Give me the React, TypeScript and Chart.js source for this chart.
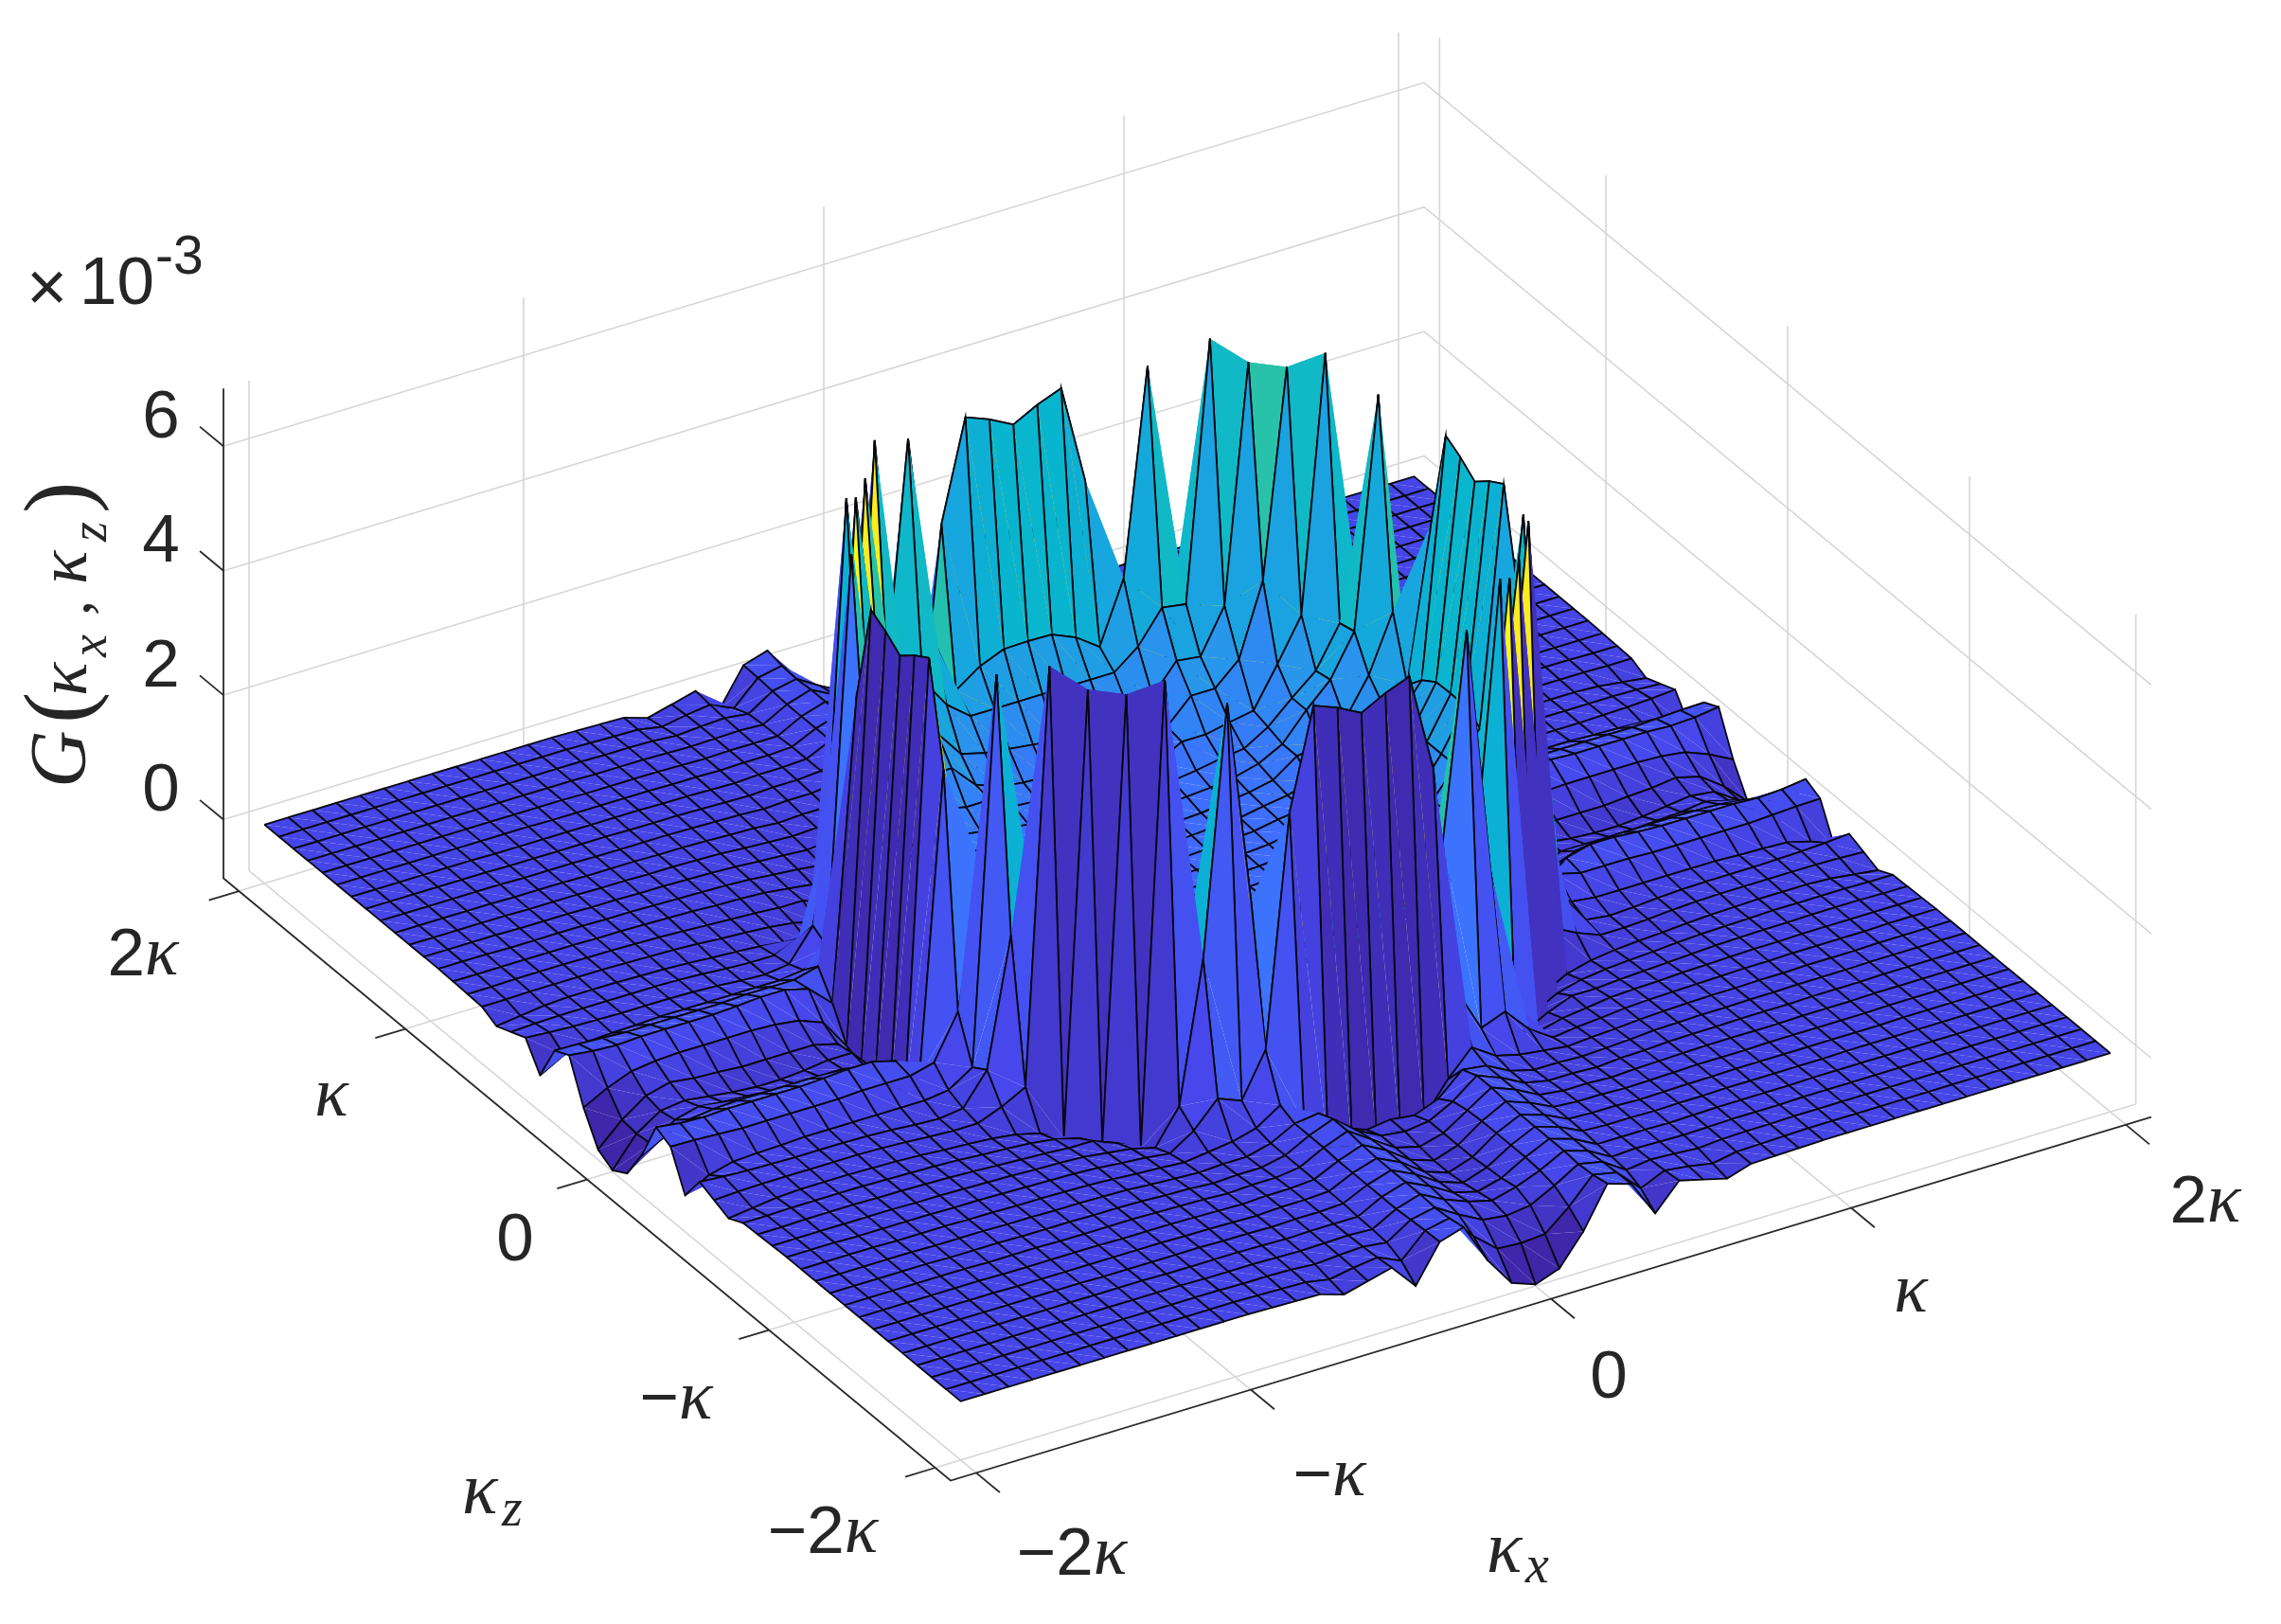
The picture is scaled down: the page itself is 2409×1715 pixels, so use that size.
import React, { useEffect, useRef } from "react";
import { Chart, registerables } from "chart.js";
Chart.register(...registerables);

// G(kx,kz) x 1e3. Row a holds the grid points (a, b) for b = a..24,
// where a = min(|i|,|j|) and b = max(|i|,|j|): the surface has the symmetry of the square.
const octantRows: number[][] = [
  [.8,.8,.8,.82,.85,.9,.95,1.05,1.15,1.45,2.0,2.66,5.95,-.6,-.2,-.2,-.25,-.28,-.28,-.25,-.2,-.15,-.2,-.45,-.92],
  [.8,.8,.83,.86,.92,.98,1.08,1.18,1.5,2.0,2.65,6.15,-.7,-.25,-.15,-.15,-.15,-.15,-.12,-.1,-.05,-.15,-.42,-.78],
  [.82,.85,.88,.95,1.0,1.1,1.2,1.55,2.0,2.49,6.3,-.6,-.1,.05,.1,.12,.12,.12,.12,.1,.05,-.1,-.3],
  [.88,.9,.97,1.03,1.13,1.25,1.6,2.0,2.22,4.7,-.1,.25,.35,.35,.32,.3,.3,.3,.3,.28,.3,.35],
  [.95,1.0,1.08,1.35,1.4,1.7,2.3,3.2,1.0,.3,.2,.2,.2,.18,.18,.18,.18,.18,.2,.22,.23],
  [1.05,1.15,1.35,1.78,2.15,2.81,6.5,.3,.05,0,0,0,0,0,0,-.02,-.03,-.05,-.15,-.36],
  [1.2,1.43,1.78,2.1,2.75,2.5,.45,-.05,-.1,-.08,-.05,-.03,-.02,-.02,-.02,-.01,0,.02,.05],
  [1.5,2.13,2.8,6.9,.25,.05,-.1,-.1,-.08,-.05,-.03,-.02,-.02,-.02,-.02,-.02,-.03,-.05],
  [3.28,6.6,-.5,-.3,-.2,-.15,-.12,-.1,-.07,-.05,-.04,-.03,-.03,-.03,-.05,-.1,-.15],
  [-.5,-.3,-.2,-.15,-.12,-.1,-.07,-.05,-.04,-.03,-.02,-.02,-.02,-.02,-.03,-.03],
  [-.15,-.15,-.12,-.1,-.08,-.06,-.04,-.03,-.02,-.02,-.01,-.01,-.01,-.02,-.02],
  [-.1,-.08,-.07,-.05,-.04,-.03,-.02,-.02,-.01,-.01,-.01,-.01,-.01,-.01],
  [-.06,-.05,-.04,-.03,-.02,-.02,-.01,-.01,-.01,-.01,0,0,0],
  [-.04,-.03,-.03,-.02,-.02,-.01,-.01,-.01,0,0,0,0],
  [-.03,-.02,-.02,-.01,-.01,-.01,0,0,0,0,0],
  [-.02,-.02,-.01,-.01,-.01,0,0,0,0,0],
  [-.01,-.01,-.01,0,0,0,0,0,0],
  [-.01,-.01,0,0,0,0,0,0],
  [-.01,0,0,0,0,0,0],
  [0,0,0,0,0,0],
  [0,0,0,0,0],
  [0,0,0,0],
  [0,0,0],
  [0,0],
  [0],
];
const gridStep = 1.915 / 24;
const halfCount = 24;

const zTicks = [0, 2, 4, 6];
const zTickLabels = ["0", "2", "4", "6"];
const kTicks = [-1.915, -1, 0, 1, 1.915];
const kxTickLabels = ["\u22122|\u03ba", "\u2212|\u03ba", "0|", "|\u03ba", "2|\u03ba"];
const kzTickLabels = ["\u22122|\u03ba", "\u2212|\u03ba", "0|", "|\u03ba", "2|\u03ba"];
const parula = ["#3E26A8","#4747EB","#3E6FFF","#2796EB","#08B4D0","#31C69F","#80CC59","#DDBD29","#FCCF30","#F9FB15"];
const colourMin = -0.8;
const colourMax = 6.9;
const boxLimit = 2;
const zMin = -0.944;
const zMax = 6.93;

// orthographic view of the box, in page pixels
const project = (kx: number, kz: number, z: number) => ({
  x: 1254 + 317 * kx - 192 * kz,
  y: 991.5 - 96 * kx - 159 * kz - 65.7 * z,
});

const heightAt = (i: number, j: number) => {
  const p = Math.abs(i), q = Math.abs(j);
  const a = Math.min(p, q), b = Math.max(p, q);
  return octantRows[a][b - a];
};

const mix = (t: number) => {
  const u = Math.max(0, Math.min(1, t)) * (parula.length - 1);
  const k = Math.min(parula.length - 2, Math.floor(u));
  const f = u - k;
  const c = (s: string, o: number) => parseInt(s.slice(o, o + 2), 16);
  const part = (o: number) => Math.round(c(parula[k], o) * (1 - f) + c(parula[k + 1], o) * f);
  return `rgb(${part(1)},${part(3)},${part(5)})`;
};

const SANS = '"Liberation Sans"';
const SERIF = '"Liberation Serif"';
const INK = "#262626";

type Run = [string, string];
const tickRuns = (s: string): Run[] => {
  const [a, b] = s.split("|");
  const out: Run[] = [];
  if (a) out.push([a, `71px ${SANS}`]);
  if (b) out.push([b, `italic 74px ${SERIF}`]);
  return out;
};

const drawRuns = (ctx: CanvasRenderingContext2D, runs: Run[], x: number, y: number) => {
  let w = 0;
  runs.forEach(([t, f]) => { ctx.font = f; w += ctx.measureText(t).width; });
  let cx = x - w / 2;
  runs.forEach(([t, f]) => {
    ctx.font = f;
    ctx.fillText(t, cx, y);
    cx += ctx.measureText(t).width;
  });
};

const labelPlugin = {
  id: "labels",
  afterDraw(chart: any) {
    const { ctx, scales } = chart;
    const px = (x: number) => scales.x.getPixelForValue(x);
    const py = (y: number) => scales.y.getPixelForValue(y);
    ctx.save();
    ctx.fillStyle = INK;
    ctx.textAlign = "left";
    ctx.textBaseline = "middle";
    zTicks.forEach((v, n) => {
      const p = project(-boxLimit, boxLimit, v);
      drawRuns(ctx, [[zTickLabels[n], `71px ${SANS}`]], px(p.x - 66), py(p.y - 29));
    });
    const kzPlaces = [[869, 1620], [714, 1479], [544, 1311], [350, 1159], [151, 1010]];
    const kxPlaces = [[1132, 1643], [1404, 1560], [1699, 1456], [2018, 1366], [2329, 1271]];
    kzTickLabels.forEach((s, n) => drawRuns(ctx, tickRuns(s), px(kzPlaces[n][0]), py(kzPlaces[n][1])));
    kxTickLabels.forEach((s, n) => drawRuns(ctx, tickRuns(s), px(kxPlaces[n][0]), py(kxPlaces[n][1])));
    // axis names
    ctx.font = `italic 78px ${SERIF}`;
    ctx.fillText("\u03ba", px(488), py(1577));
    ctx.font = `italic 56px ${SERIF}`;
    ctx.fillText("z", px(530), py(1596));
    ctx.font = `italic 78px ${SERIF}`;
    ctx.fillText("\u03ba", px(1570), py(1639));
    ctx.font = `italic 56px ${SERIF}`;
    ctx.fillText("x", px(1611), py(1656));
    // exponent
    ctx.font = `74px ${SANS}`;
    ctx.fillText("\u00d7", px(28), py(308));
    ctx.font = `71px ${SANS}`;
    ctx.fillText("10", px(84), py(301));
    ctx.font = `57px ${SANS}`;
    ctx.fillText("-3", px(164), py(273));
    // rotated title
    ctx.translate(px(72), py(672));
    ctx.rotate(-Math.PI / 2);
    const pieces: [string, string, number, number][] = [
      ["G", `italic 84px ${SERIF}`, -160, -4],
      ["(", `100px ${SERIF}`, -92, -4],
      ["\u03ba", `italic 74px ${SERIF}`, -63, 0],
      ["x", `italic 54px ${SERIF}`, -22, 26],
      [",", `64px ${SERIF}`, 22, 6],
      ["\u03ba", `italic 74px ${SERIF}`, 55, 0],
      ["z", `italic 54px ${SERIF}`, 100, 26],
      [")", `100px ${SERIF}`, 130, -4],
    ];
    pieces.forEach(([t, f, dx, dy]) => { ctx.font = f; ctx.fillText(t, dx, dy); });
    ctx.restore();
  },
};

const lineSet = (pts: { x: number; y: number }[], colour: string, width: number, order: number) => ({
  data: pts,
  showLine: true,
  fill: false,
  pointRadius: 0,
  borderColor: colour,
  borderWidth: width,
  borderDash: [100000, 0],
  order,
  clip: false,
});

const triangle = (pts: { x: number; y: number }[], colour: string, order: number) => ({
  data: pts,
  showLine: true,
  fill: "shape",
  backgroundColor: colour,
  borderColor: "rgba(0,0,0,0)",
  borderWidth: 0,
  borderDash: [100000, 0],
  pointRadius: 0,
  order,
  clip: false,
});

const buildDatasets = () => {
  const sets: any[] = [];
  const GREY = "#d6d6d6";
  const B = boxLimit;
  const greyOrder = 200000;
  kTicks.forEach((k) => {
    sets.push(lineSet([project(k, B, zMin), project(k, B, zMax)], GREY, 1.6, greyOrder));
    sets.push(lineSet([project(B, k, zMin), project(B, k, zMax)], GREY, 1.6, greyOrder));
    sets.push(lineSet([project(k, B, zMin), project(k, -B, zMin)], GREY, 1.6, greyOrder));
    sets.push(lineSet([project(-B, k, zMin), project(B, k, zMin)], GREY, 1.6, greyOrder));
  });
  zTicks.forEach((z) => {
    sets.push(lineSet([project(-B, B, z), project(B, B, z), project(B, -B, z)], GREY, 1.6, greyOrder));
  });
  const BLACK = "#2a2a2a";
  const axisOrder = 150000;
  sets.push(lineSet([project(-B, B, zMax), project(-B, B, zMin), project(-B, -B, zMin), project(B, -B, zMin)], BLACK, 1.8, axisOrder));
  zTicks.forEach((z) => sets.push(lineSet([project(-B, B, z), project(-B, B + 0.13, z)], BLACK, 1.8, axisOrder)));
  kTicks.forEach((k) => {
    sets.push(lineSet([project(-B, k, zMin), project(-B - 0.1, k, zMin)], BLACK, 1.8, axisOrder));
    sets.push(lineSet([project(k, -B, zMin), project(k, -B - 0.13, zMin)], BLACK, 1.8, axisOrder));
  });
  const EDGE = "#07070f";
  const EDGE_W = 1.8;
  let order = 0;
  for (let j = -halfCount; j < halfCount; j++) {
    for (let i = -halfCount; i < halfCount; i++) {
      const corner = (p: number, q: number) => project(p * gridStep, q * gridStep, heightAt(p, q));
      const A = corner(i, j), Bb = corner(i + 1, j), C = corner(i + 1, j + 1), D = corner(i, j + 1);
      const colour = mix((heightAt(i, j) - colourMin) / (colourMax - colourMin));
      // lowest order is painted last: near edges over near triangle over far edges over far triangle
      sets.push(lineSet([D, A, Bb], EDGE, EDGE_W, order++));
      sets.push(triangle([A, Bb, D, A], colour, order++));
      sets.push(lineSet([Bb, C, D], EDGE, EDGE_W, order++));
      sets.push(triangle([Bb, C, D, Bb], colour, order++));
    }
  }
  return sets;
};

export default function App() {
  const ref = useRef<HTMLCanvasElement>(null);
  useEffect(() => {
    const chart = new Chart(ref.current!, {
      type: "scatter",
      data: { datasets: buildDatasets() },
      plugins: [labelPlugin],
      options: {
        responsive: false,
        animation: false,
        events: [],
        layout: { padding: 0 },
        scales: {
          x: { type: "linear", min: 0, max: 2409, display: false },
          y: { type: "linear", min: 0, max: 1715, reverse: true, display: false },
        },
        plugins: {
          legend: { display: false },
          tooltip: { enabled: false },
          filler: { drawTime: "beforeDatasetDraw" },
        },
      },
    } as any);
    return () => chart.destroy();
  }, []);
  return (
    <div style={{ position: "fixed", left: 0, top: 0, width: 2409, height: 1715, background: "#fff" }}>
      <canvas ref={ref} width={2409} height={1715} style={{ display: "block" }} />
    </div>
  );
}
